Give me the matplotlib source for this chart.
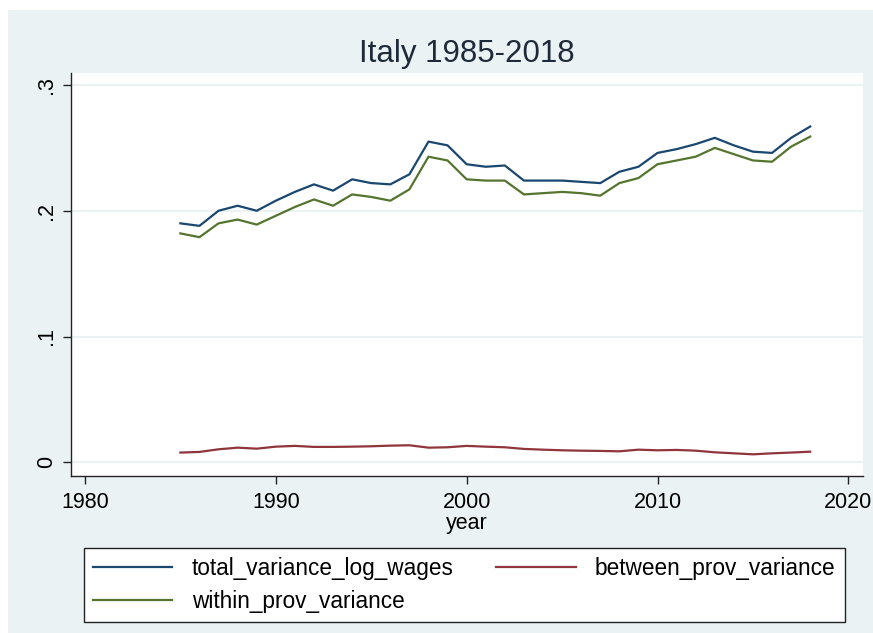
import numpy as np
import matplotlib
matplotlib.use("Agg")
import matplotlib.pyplot as plt
from matplotlib.patches import Rectangle

plt.rcParams['font.family'] = ['Liberation Sans', 'DejaVu Sans']

# data
years = list(range(1985, 2019))
total_variance_log_wages = [
    0.190, 0.188, 0.200, 0.204, 0.200, 0.208, 0.215, 0.221, 0.216, 0.225,
    0.222, 0.221, 0.229, 0.255, 0.252, 0.237, 0.235, 0.236, 0.224, 0.224,
    0.224, 0.223, 0.222, 0.231, 0.235, 0.246, 0.249, 0.253, 0.258, 0.252,
    0.247, 0.246, 0.258, 0.267]
within_prov_variance = [
    0.182, 0.179, 0.190, 0.193, 0.189, 0.196, 0.203, 0.209, 0.204, 0.213,
    0.211, 0.208, 0.217, 0.243, 0.240, 0.225, 0.224, 0.224, 0.213, 0.214,
    0.215, 0.214, 0.212, 0.222, 0.226, 0.237, 0.240, 0.243, 0.250, 0.245,
    0.240, 0.239, 0.251, 0.259]
between_prov_variance = [
    0.0077, 0.0082, 0.0103, 0.0116, 0.0108, 0.0124, 0.0130, 0.0122, 0.0122, 0.0124,
    0.0127, 0.0132, 0.0135, 0.0116, 0.0119, 0.0130, 0.0124, 0.0119, 0.0106, 0.0100,
    0.0095, 0.0092, 0.0090, 0.0087, 0.0100, 0.0095, 0.0098, 0.0092, 0.0079, 0.0071,
    0.0063, 0.0071, 0.0077, 0.0084]

xticks = [1980, 1990, 2000, 2010, 2020]
yticks = [0, 0.1, 0.2, 0.3]
ytick_labels = ["0", ".1", ".2", ".3"]

bg = "#EAF2F3"
navy = "#1A476F"
maroon = "#90353B"
green = "#55752F"

W, H = 873, 633
fig = plt.figure(figsize=(W / 100, H / 100), dpi=100, facecolor="white")
# stata-like graph region (starts a little below the top edge)
fig.patches.append(Rectangle((8 / W, 0), 1 - 8 / W, (H - 10) / H,
                             transform=fig.transFigure, facecolor=bg,
                             edgecolor="none", zorder=-5))

ax = fig.add_axes([71 / W, 1 - 475.7 / H, (862.7 - 71) / W, (475.7 - 72.7) / H])
ax.set_facecolor("white")

l1, = ax.plot(years, total_variance_log_wages, color=navy, lw=1.6,
              label="total_variance_log_wages")
l2, = ax.plot(years, between_prov_variance, color=maroon, lw=1.6,
              label="between_prov_variance")
l3, = ax.plot(years, within_prov_variance, color=green, lw=1.6,
              label="within_prov_variance")

ax.set_xlim(1979.27, 2020.75)
ax.set_ylim(-0.0107, 0.3098)
ax.set_xticks(xticks)
ax.set_yticks(yticks)
ax.set_yticklabels(ytick_labels, rotation=90, va="center")
ax.tick_params(axis="both", labelsize=15.5, length=6, width=1,
               color="#222222", direction="out")
ax.tick_params(axis="y", pad=4)
ax.tick_params(axis="x", pad=6)
ax.yaxis.grid(True, color=bg, lw=1.5)
ax.set_axisbelow(True)
for s in ["top", "right"]:
    ax.spines[s].set_visible(False)
for s in ["left", "bottom"]:
    ax.spines[s].set_color("#222222")
    ax.spines[s].set_linewidth(1)

ax.set_xlabel("year", fontsize=15.5, labelpad=0)
ax.set_title("Italy 1985-2018", fontsize=22.5, color="#1E2A3A", pad=8)

# row order: total | between, within
leg = fig.legend([l1, l3, l2], [l1.get_label(), l3.get_label(), l2.get_label()],
                 ncol=2, loc="upper left",
                 bbox_to_anchor=(84 / W, 1 - 548 / H),
                 fontsize=16.3, frameon=True, fancybox=False, edgecolor="#222222",
                 facecolor="white", framealpha=1, handlelength=3.5,
                 handletextpad=0.85, columnspacing=1.9, borderaxespad=0,
                 labelspacing=0.45, borderpad=0.4)
leg.get_frame().set_linewidth(1)

fig.savefig("out.png", dpi=100, facecolor=fig.get_facecolor())
